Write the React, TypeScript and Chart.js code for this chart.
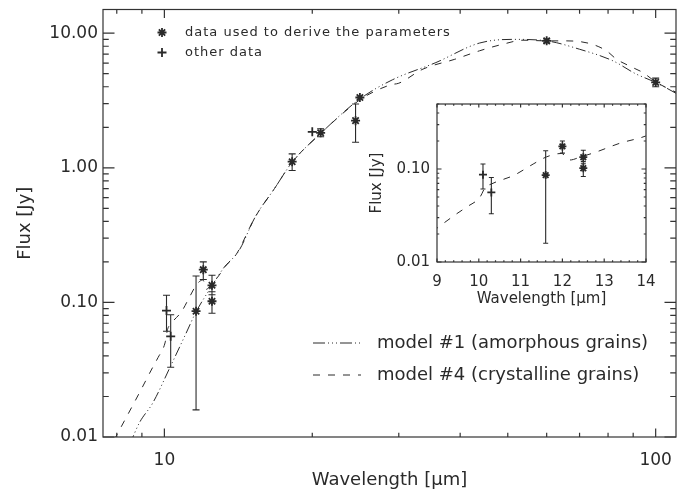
import React, { useEffect, useRef } from 'react';
import { Chart, registerables } from 'chart.js';

Chart.register(...registerables);

// ---------- data ----------
// model #1 (amorphous grains)
const model1Wave = [8.5, 8.9, 9.47, 10.27, 11.07, 11.6, 12.45, 13.2, 14.2, 15.3, 16.75, 18.2, 20.8, 25.0, 29.1, 35.7, 43.8, 51.2, 60, 70, 81.8, 91.3, 100, 112];
const model1Flux = [0.0088, 0.0128, 0.0179, 0.033, 0.059, 0.085, 0.13, 0.18, 0.244, 0.43, 0.7, 1.1, 1.8, 3.25, 4.5, 6.05, 8.45, 9.0, 8.77, 7.6, 6.24, 4.97, 4.31, 3.45];
// model #4 (crystalline grains)
const model4Wave = [7.9, 8.89, 9.47, 9.71, 10.03, 10.15, 10.3, 10.85, 11.3, 11.62, 11.98, 12.18, 12.42, 12.82, 13.37, 13.99, 15.3, 16.75, 18.2, 20.8, 25.0, 27.0, 29.0, 30.0, 33.6, 39.0, 43.8, 48.9, 53.7, 60, 65.8, 73.4, 79.4, 83.2, 89.8, 94.2, 100, 108.3, 112];
const model4Flux = [0.0095, 0.0212, 0.033, 0.039, 0.05, 0.063, 0.069, 0.086, 0.113, 0.135, 0.147, 0.125, 0.134, 0.153, 0.189, 0.226, 0.43, 0.7, 1.1, 1.8, 3.2, 3.75, 4.15, 4.25, 5.41, 6.4, 7.4, 8.29, 8.87, 8.77, 8.77, 8.38, 7.4, 6.42, 5.56, 5.1, 4.35, 3.74, 3.55];

// data used to derive the parameters (asterisks)
const usedWave = [11.6, 12.0, 12.5, 12.5, 18.2, 20.8, 24.5, 25.0, 60, 100];
const usedFlux = [0.086, 0.175, 0.134, 0.102, 1.11, 1.82, 2.24, 3.33, 8.77, 4.31];
const usedLow = [0.0159, 0.148, 0.114, 0.083, 0.955, 1.7, 1.55, null, 8.5, 4.0];
const usedHigh = [0.157, 0.2, 0.159, 0.12, 1.27, 1.95, 2.98, null, 9.05, 4.64];

// other data (plus signs)
const otherWave = [10.1, 10.3, 20.0];
const otherFlux = [0.087, 0.056, 1.85];
const otherLow = [0.061, 0.033, null];
const otherHigh = [0.113, 0.081, null];

// axes
const mainXTicks = [10, 100];
const mainXLabels = ['10', '100'];
const mainXMinor = [8, 9, 20, 30, 40, 50, 60, 70, 80, 90];
const mainYTicks = [0.01, 0.1, 1, 10];
const mainYLabels = ['0.01', '0.10', '1.00', '10.00'];
const mainYMinor = [0.02, 0.03, 0.04, 0.05, 0.06, 0.07, 0.08, 0.09, 0.2, 0.3, 0.4, 0.5, 0.6, 0.7, 0.8, 0.9, 2, 3, 4, 5, 6, 7, 8, 9];

const insetXTicks = [9, 10, 11, 12, 13, 14];
const insetXLabels = ['9', '10', '11', '12', '13', '14'];
const insetXMinor = [9.2, 9.4, 9.6, 9.8, 10.2, 10.4, 10.6, 10.8, 11.2, 11.4, 11.6, 11.8, 12.2, 12.4, 12.6, 12.8, 13.2, 13.4, 13.6, 13.8];
const insetYTicks = [0.01, 0.1];
const insetYLabels = ['0.01', '0.10'];
const insetYMinor = [0.02, 0.03, 0.04, 0.05, 0.06, 0.07, 0.08, 0.09, 0.2, 0.3, 0.4, 0.5];

const FONT = "'DejaVu Sans', sans-serif";
const INK = '#2a2a2a';

const pts = (xs: number[], ys: number[]) => xs.map((x, i) => ({ x, y: ys[i] }));
const bars = (xs: number[], lo: (number | null)[], hi: (number | null)[]) =>
  xs.map((x, i) => ({ x, lo: lo[i], hi: hi[i] }));

// ---------- plugins ----------
const frameTicks = {
  id: 'frameTicks',
  afterDatasetsDraw(chart: any, _a: any, o: any) {
    const { ctx, chartArea: a, scales } = chart;
    const x = scales.x, y = scales.y;
    ctx.save();
    ctx.strokeStyle = o.color;
    ctx.lineWidth = o.lineWidth;
    ctx.strokeRect(a.left, a.top, a.right - a.left, a.bottom - a.top);
    ctx.beginPath();
    const xt = (vals: number[], len: number) => vals.forEach((v) => {
      const p = x.getPixelForValue(v);
      if (p < a.left - 0.5 || p > a.right + 0.5) return;
      ctx.moveTo(p, a.bottom); ctx.lineTo(p, a.bottom - len);
      ctx.moveTo(p, a.top); ctx.lineTo(p, a.top + len);
    });
    const yt = (vals: number[], len: number) => vals.forEach((v) => {
      const p = y.getPixelForValue(v);
      if (p < a.top - 0.5 || p > a.bottom + 0.5) return;
      ctx.moveTo(a.left, p); ctx.lineTo(a.left + len, p);
      ctx.moveTo(a.right, p); ctx.lineTo(a.right - len, p);
    });
    xt(o.xMajor, o.xLen); xt(o.xMinor, o.xLen / 2);
    yt(o.yMajor, o.yLen); yt(o.yMinor, o.yLen / 2);
    ctx.stroke();
    ctx.restore();
  },
};

const errorBars = {
  id: 'errorBars',
  afterDatasetsDraw(chart: any, _a: any, o: any) {
    const { ctx, chartArea: a, scales } = chart;
    const x = scales.x, y = scales.y;
    ctx.save();
    ctx.beginPath();
    ctx.rect(a.left, a.top, a.right - a.left, a.bottom - a.top);
    ctx.clip();
    ctx.strokeStyle = o.color;
    ctx.lineWidth = o.lineWidth;
    ctx.beginPath();
    (o.bars as any[]).forEach((b) => {
      if (b.lo == null || b.hi == null) return;
      const px = x.getPixelForValue(b.x);
      const p1 = y.getPixelForValue(b.lo);
      const p2 = y.getPixelForValue(b.hi);
      ctx.moveTo(px, p1); ctx.lineTo(px, p2);
      ctx.moveTo(px - o.cap, p1); ctx.lineTo(px + o.cap, p1);
      ctx.moveTo(px - o.cap, p2); ctx.lineTo(px + o.cap, p2);
    });
    ctx.stroke();
    ctx.restore();
  },
};

const mainLegend = {
  id: 'mainLegend',
  afterDraw(chart: any) {
    const { ctx } = chart;
    ctx.save();
    ctx.strokeStyle = INK;
    ctx.fillStyle = INK;
    // asterisk symbol
    ctx.lineWidth = 1.8;
    ctx.beginPath();
    const sx = 162, sy = 32.5, r = 4.5;
    ctx.moveTo(sx - r, sy); ctx.lineTo(sx + r, sy);
    ctx.moveTo(sx, sy - r); ctx.lineTo(sx, sy + r);
    ctx.moveTo(sx - r * 0.7, sy - r * 0.7); ctx.lineTo(sx + r * 0.7, sy + r * 0.7);
    ctx.moveTo(sx - r * 0.7, sy + r * 0.7); ctx.lineTo(sx + r * 0.7, sy - r * 0.7);
    // plus symbol
    const py = 52.5;
    ctx.moveTo(sx - r, py); ctx.lineTo(sx + r, py);
    ctx.moveTo(sx, py - r); ctx.lineTo(sx, py + r);
    ctx.stroke();
    ctx.font = `13px ${FONT}`;
    (ctx as any).letterSpacing = '1px';
    ctx.textBaseline = 'middle';
    ctx.textAlign = 'left';
    ctx.fillText('data used to derive the parameters', 185, sy);
    ctx.fillText('other data', 185, py);
    // model legend
    ctx.lineWidth = 1;
    ctx.beginPath();
    ctx.setLineDash([12, 3, 1, 3, 1, 3, 1, 3]);
    ctx.moveTo(313, 343); ctx.lineTo(361, 343);
    ctx.stroke();
    ctx.beginPath();
    ctx.setLineDash([7, 8]);
    ctx.moveTo(313, 375); ctx.lineTo(361, 375);
    ctx.stroke();
    ctx.setLineDash([]);
    (ctx as any).letterSpacing = '0px';
    ctx.font = `18px ${FONT}`;
    ctx.fillText('model #1 (amorphous grains)', 377, 343);
    ctx.fillText('model #4 (crystalline grains)', 377, 375);
    ctx.restore();
  },
};

// ---------- helpers ----------
function logAxis(opts: any) {
  return {
    type: 'logarithmic',
    min: opts.min,
    max: opts.max,
    bounds: 'data',
    grid: { display: false, drawTicks: false },
    border: { display: false },
    ticks: {
      autoSkip: false,
      maxRotation: 0,
      minRotation: 0,
      padding: opts.tickPad,
      color: INK,
      font: { family: FONT, size: opts.tickSize },
      callback: (_v: any, i: number) => opts.labels[i],
    },
    title: {
      display: true,
      text: opts.title,
      color: INK,
      font: { family: FONT, size: opts.titleSize },
      padding: opts.titlePad,
    },
    afterBuildTicks: (s: any) => {
      s.ticks = opts.ticks.map((v: number) => ({ value: v }));
    },
    afterFit: (s: any) => {
      if (opts.width != null) s.width = opts.width;
      if (opts.height != null) s.height = opts.height;
      s.paddingLeft = 0; s.paddingRight = 0; s.paddingTop = 0; s.paddingBottom = 0;
    },
  };
}

function linAxis(opts: any) {
  const a: any = logAxis(opts);
  a.type = 'linear';
  return a;
}

const lineDs = (label: string, xs: number[], ys: number[], dash: number[]) => ({
  label,
  data: pts(xs, ys),
  showLine: true,
  borderColor: INK,
  borderWidth: 1,
  borderDash: dash,
  pointRadius: 0,
  fill: false,
  cubicInterpolationMode: 'monotone',
  order: 2,
});

const pointDs = (label: string, xs: number[], ys: number[], style: string, r: number) => ({
  label,
  data: pts(xs, ys),
  showLine: false,
  pointStyle: style,
  pointRadius: r,
  borderColor: INK,
  backgroundColor: INK,
  pointBorderWidth: 1.8,
  order: 1,
});

function mainConfig(): any {
  return {
    type: 'scatter',
    data: {
      datasets: [
        lineDs('model #1 (amorphous grains)', model1Wave, model1Flux, [10, 3, 1, 3, 1, 3, 1, 3]),
        lineDs('model #4 (crystalline grains)', model4Wave, model4Flux, [7, 8]),
        pointDs('data used to derive the parameters', usedWave, usedFlux, 'star', 4.5),
        pointDs('other data', otherWave, otherFlux, 'cross', 4.5),
      ],
    },
    options: {
      responsive: false,
      animation: false,
      layout: { padding: { left: 0, top: 9.5, right: 8, bottom: 0 } },
      plugins: {
        legend: { display: false },
        tooltip: { enabled: false },
        frameTicks: { color: '#333', lineWidth: 1.2, xMajor: mainXTicks, xMinor: mainXMinor, yMajor: mainYTicks, yMinor: mainYMinor, xLen: 8.5, yLen: 11.5 },
        errorBars: {
          color: INK, lineWidth: 1.1, cap: 3.5,
          bars: [...bars(usedWave, usedLow, usedHigh), ...bars(otherWave, otherLow, otherHigh)],
        },
      },
      scales: {
        x: logAxis({ min: 7.5, max: 110, ticks: mainXTicks, labels: mainXLabels, tickSize: 17, tickPad: 13, title: 'Wavelength [μm]', titleSize: 18, titlePad: { top: 0, bottom: 2 }, height: 56 }),
        y: logAxis({ min: 0.01, max: 15, ticks: mainYTicks, labels: mainYLabels, tickSize: 17, tickPad: 5, title: 'Flux [Jy]', titleSize: 18, titlePad: { top: 15, bottom: 0 }, width: 103 }),
      },
    },
    plugins: [errorBars, frameTicks, mainLegend],
  };
}

function insetConfig(): any {
  return {
    type: 'scatter',
    data: {
      datasets: [
        lineDs('model #4 (crystalline grains)', model4Wave, model4Flux, [7, 8]),
        pointDs('data used to derive the parameters', usedWave, usedFlux, 'star', 4),
        pointDs('other data', otherWave, otherFlux, 'cross', 4),
      ],
    },
    options: {
      responsive: false,
      animation: false,
      layout: { padding: { left: 0, top: 14, right: 24, bottom: 0 } },
      plugins: {
        legend: { display: false },
        tooltip: { enabled: false },
        frameTicks: { color: '#333', lineWidth: 1.2, xMajor: insetXTicks, xMinor: insetXMinor, yMajor: insetYTicks, yMinor: insetYMinor, xLen: 3.5, yLen: 4.5 },
        errorBars: {
          color: INK, lineWidth: 1.1, cap: 2.5,
          bars: [...bars(usedWave, usedLow, usedHigh), ...bars(otherWave, otherLow, otherHigh)],
        },
      },
      scales: {
        x: linAxis({ min: 9, max: 14, ticks: insetXTicks, labels: insetXLabels, tickSize: 15, tickPad: 11, title: 'Wavelength [μm]', titleSize: 15, titlePad: { top: 0, bottom: 7 }, height: 53 }),
        y: logAxis({ min: 0.01, max: 0.5, ticks: insetYTicks, labels: insetYLabels, tickSize: 15, tickPad: 7, title: 'Flux [Jy]', titleSize: 15, titlePad: { top: 18, bottom: 0 }, width: 87 }),
      },
    },
    plugins: [errorBars, frameTicks],
  };
}

export default function App() {
  const mainRef = useRef<HTMLCanvasElement>(null);
  const insetRef = useRef<HTMLCanvasElement>(null);
  useEffect(() => {
    const main = new Chart(mainRef.current as HTMLCanvasElement, mainConfig());
    const inset = new Chart(insetRef.current as HTMLCanvasElement, insetConfig());
    return () => {
      main.destroy();
      inset.destroy();
    };
  }, []);
  return (
    <div style={{ position: 'fixed', left: 0, top: 0, width: 684, height: 493, background: '#fff' }}>
      <canvas ref={mainRef} width={684} height={493} style={{ position: 'absolute', left: 0, top: 0 }} />
      <canvas ref={insetRef} width={320} height={225} style={{ position: 'absolute', left: 350, top: 90 }} />
    </div>
  );
}
